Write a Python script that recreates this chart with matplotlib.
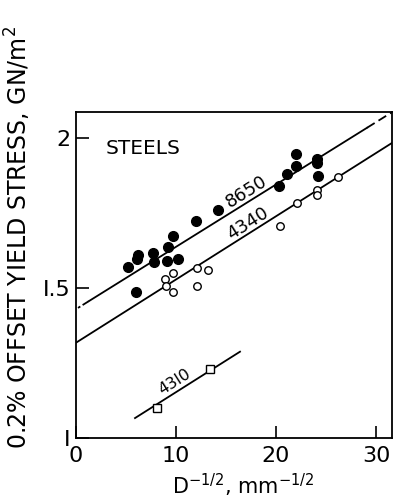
import numpy as np
import matplotlib
matplotlib.use('Agg')
import matplotlib.pyplot as plt

# 8650 steel (filled circles)
x_8650 = [5.2, 6.1, 6.2, 6.0, 7.7, 7.8, 9.2, 9.7, 9.1, 10.2, 12.0, 14.2,
          20.3, 21.1, 22.0, 22.0, 24.1, 24.1, 24.2]
y_8650 = [1.571, 1.596, 1.61, 1.486, 1.619, 1.588, 1.638, 1.673, 1.59, 1.596,
          1.724, 1.762, 1.84, 1.882, 1.907, 1.949, 1.932, 1.918, 1.873]

# 4340 steel (open circles)
x_4340 = [8.9, 9.7, 9.0, 9.7, 12.1, 13.2, 12.1, 20.4, 22.1, 24.1, 24.1, 26.2]
y_4340 = [1.532, 1.551, 1.507, 1.486, 1.568, 1.56, 1.508, 1.708, 1.784,
          1.829, 1.81, 1.871]

# 4310 steel (open squares)
x_4310 = [8.1, 13.4]
y_4310 = [1.099, 1.23]

# fitted lines: intercept, slope
fit_8650 = (1.43, 0.0208)
fit_4340 = (1.318, 0.0211)
fit_4310 = (0.942, 0.0211)

plt.rcParams['font.family'] = ['DejaVu Sans']

fig = plt.figure(figsize=(3.95, 5.04), dpi=100, facecolor='white')
ax = fig.add_axes([76 / 395, (504 - 438) / 504, 316 / 395, 326 / 504])
ax.set_xlim(0, 31.6)
ax.set_ylim(1.0, 2.088)


def line_y(fit, x):
    return fit[0] + fit[1] * np.asarray(x)


lw = 1.3
# 8650: short dash at the left, solid, dashed at the top right
xs = np.array([0.2, 1.3])
ax.plot(xs, line_y(fit_8650, xs), color='black', lw=lw, ls=(0, (1.5, 1.5, 4, 2)))
xs = np.array([1.3, 29.1])
ax.plot(xs, line_y(fit_8650, xs), color='black', lw=lw)
xs = np.array([29.1, 31.6])
ax.plot(xs, line_y(fit_8650, xs), color='black', lw=lw, ls=(0, (5, 2.5)))

xs = np.array([0, 31.6])
ax.plot(xs, line_y(fit_4340, xs), color='black', lw=lw)

xs = np.array([5.9, 16.4])
ax.plot(xs, line_y(fit_4310, xs), color='black', lw=lw)

ax.plot(x_8650, y_8650, 'o', color='black', ms=7, zorder=3)
ax.plot(x_4340, y_4340, 'o', mfc='white', mec='black', mew=1.0, ms=5.4, zorder=3)
ax.plot(x_4310, y_4310, 's', mfc='white', mec='black', mew=1.0, ms=5.4, zorder=3)


def angle_of(fit):
    p0 = ax.transData.transform((0, line_y(fit, 0)))
    p1 = ax.transData.transform((10, line_y(fit, 10)))
    return np.degrees(np.arctan2(p1[1] - p0[1], p1[0] - p0[0]))


ax.text(17.0, line_y(fit_8650, 17.0) + 0.038, '8650', rotation=angle_of(fit_8650),
        ha='center', va='center', fontsize=13, rotation_mode='anchor')
ax.text(17.2, line_y(fit_4340, 17.2) + 0.035, '4340', rotation=angle_of(fit_4340),
        ha='center', va='center', fontsize=13, rotation_mode='anchor')
ax.text(9.9, line_y(fit_4310, 9.9) + 0.036, '43I0', rotation=angle_of(fit_4310),
        ha='center', va='center', fontsize=11.5, rotation_mode='anchor')

ax.text(3.0, 1.967, 'STEELS', ha='left', va='center', fontsize=14.5)

ax.set_xticks([0, 10, 20, 30])
ax.set_xticklabels(['0', '10', '20', '30'])
ax.set_yticks([1.0, 1.5, 2.0])
ax.set_yticklabels(['I', 'I.5', '2'])
ax.tick_params(direction='in', length=9, width=1.2, labelsize=16)
ax.tick_params(axis='x', pad=6)
ax.tick_params(axis='y', pad=4)
for sp in ax.spines.values():
    sp.set_linewidth(1.3)

ax.set_ylabel('0.2% OFFSET YIELD STRESS, GN/m$^2$', fontsize=17)
ax.yaxis.set_label_coords(-0.136, 0.615)
ax.set_xlabel('D$^{-1/2}$, mm$^{-1/2}$', fontsize=15)
ax.xaxis.set_label_coords(0.53, -0.105)

plt.savefig('out.png', dpi=100, facecolor='white')
plt.close()
